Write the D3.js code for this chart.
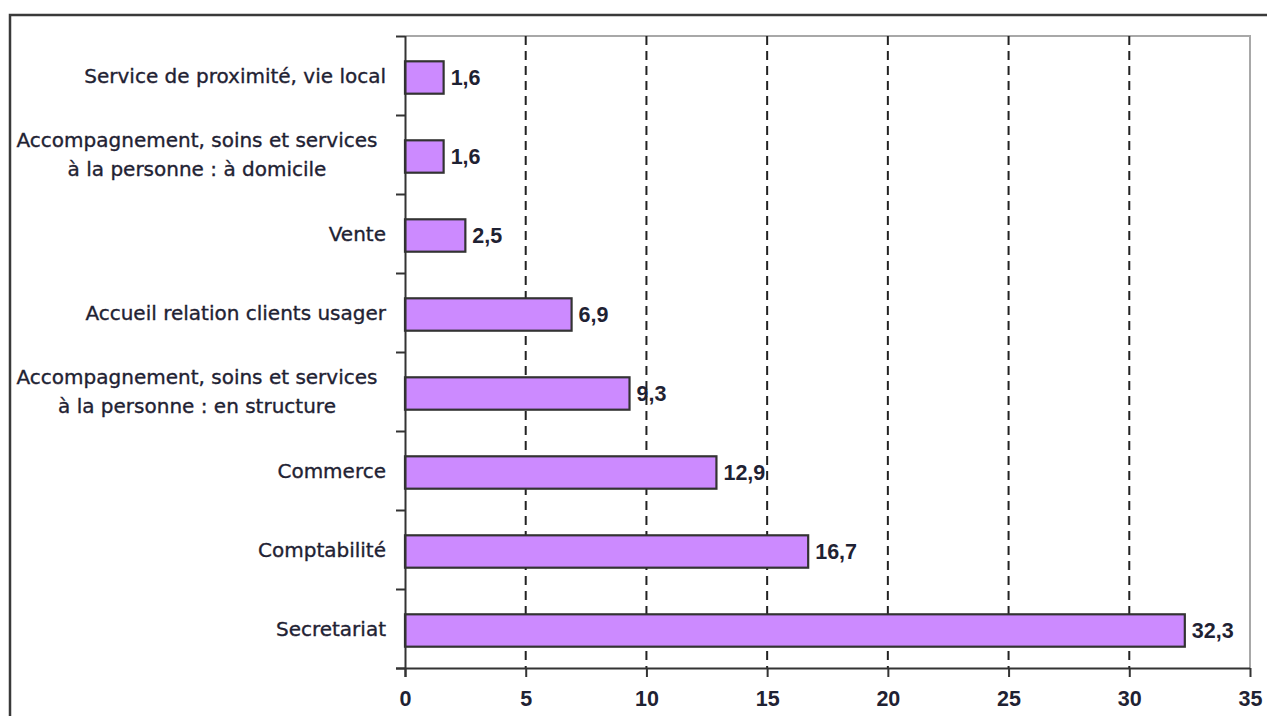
<!DOCTYPE html>
<html>
<head>
<meta charset="utf-8">
<script src="https://cdn.jsdelivr.net/npm/d3@7/dist/d3.min.js"></script>
<style>
  html, body { margin: 0; padding: 0; background: #fff; }
  svg { display: block; }
</style>
</head>
<body>
<svg id="chart" width="1267" height="716"></svg>
<script>
// Répartition par domaine de formation (%)
const categories = [
  "Service de proximité, vie local",
  "Accompagnement, soins et services|à la personne : à domicile",
  "Vente",
  "Accueil relation clients usager",
  "Accompagnement, soins et services|à la personne : en structure",
  "Commerce",
  "Comptabilité",
  "Secretariat"
];
const values = [1.6, 1.6, 2.5, 6.9, 9.3, 12.9, 16.7, 32.3];
const valueLabels = ["1,6", "1,6", "2,5", "6,9", "9,3", "12,9", "16,7", "32,3"];
const xTicks = [0, 5, 10, 15, 20, 25, 30, 35];

const svg = d3.select("#chart");
const W = 1267, H = 716;
const plot = { left: 405, right: 1250, top: 36, bottom: 668 };

// Outer frame (top and left edges)
svg.append("path")
  .attr("d", `M10,${H} L10,15 L${W},15`)
  .attr("fill", "none")
  .attr("stroke", "#3a3a3a")
  .attr("stroke-width", 2.5);

const x = d3.scaleLinear().domain([0, 35]).range([plot.left, plot.right]);
const y = d3.scaleBand().domain(categories).range([plot.top, plot.bottom]).paddingInner(0.59).paddingOuter(0.295);
const yEdges = d3.scaleLinear().domain([0, categories.length]).range([plot.top, plot.bottom]);

// Plot-area frame: top and right in grey
svg.append("path")
  .attr("d", `M${plot.left},${plot.top} L${plot.right},${plot.top} L${plot.right},${plot.bottom}`)
  .attr("fill", "none")
  .attr("stroke", "#a8a8a8")
  .attr("stroke-width", 2);

// Dashed vertical gridlines
svg.append("g")
  .selectAll("line")
  .data(xTicks.filter(t => t > 0 && t < 35))
  .join("line")
  .attr("x1", d => x(d)).attr("x2", d => x(d))
  .attr("y1", plot.top).attr("y2", plot.bottom)
  .attr("stroke", "#222")
  .attr("stroke-width", 2)
  .attr("stroke-dasharray", "9,6");

// Bars (sit slightly below the band centre)
const barShift = 2;
svg.append("g")
  .attr("transform", `translate(0,${barShift})`)
  .selectAll("rect")
  .data(values)
  .join("rect")
  .attr("x", x(0))
  .attr("y", (d, i) => y(categories[i]))
  .attr("width", d => x(d) - x(0))
  .attr("height", y.bandwidth())
  .attr("fill", "#cc8aff")
  .attr("stroke", "#333")
  .attr("stroke-width", 2.2);

// Value labels
svg.append("g")
  .selectAll("text")
  .data(values)
  .join("text")
  .attr("x", d => x(d) + 7)
  .attr("y", (d, i) => y(categories[i]) + y.bandwidth() / 2 + barShift)
  .attr("dy", "0.36em")
  .attr("font-family", "'Liberation Sans', Arial, sans-serif")
  .attr("font-weight", "bold")
  .attr("font-size", 21.5)
  .attr("fill", "#1f2233")
  .text((d, i) => valueLabels[i]);

// X axis
const xAxis = svg.append("g")
  .attr("transform", `translate(0,${plot.bottom})`)
  .call(d3.axisBottom(x).tickValues(xTicks).tickSize(9).tickSizeOuter(0).tickPadding(14).tickFormat(d3.format("d")));
xAxis.select(".domain").attr("d", `M${plot.left - 9},0.5H${plot.right}`).attr("stroke", "#333").attr("stroke-width", 2);
xAxis.selectAll(".tick line").attr("stroke", "#333").attr("stroke-width", 2);
xAxis.selectAll(".tick text")
  .attr("font-family", "'Liberation Sans', Arial, sans-serif")
  .attr("font-weight", "bold")
  .attr("font-size", 21.5)
  .attr("fill", "#1f2233");

// Y axis with ticks at category boundaries
const yAxis = svg.append("g")
  .attr("transform", `translate(${plot.left},0)`)
  .call(d3.axisLeft(yEdges).tickValues(d3.range(categories.length + 1)).tickSize(9).tickSizeOuter(0).tickFormat(""));
yAxis.select(".domain").attr("d", `M0.5,${plot.top}V${plot.bottom + 9}`).attr("stroke", "#333").attr("stroke-width", 2);
yAxis.selectAll(".tick line").attr("stroke", "#333").attr("stroke-width", 2);

// Category labels; two-line labels are centred on themselves, right-aligned as a block
const labels = svg.append("g")
  .selectAll("text")
  .data(categories)
  .join("text")
  .attr("font-family", "'DejaVu Sans', sans-serif")
  .attr("font-size", 20)
  .attr("fill", "#1f2233")
  .attr("stroke", "#1f2233")
  .attr("stroke-width", 0.35)
  .attr("transform", d => `translate(0,${y(d) + y.bandwidth() / 2})`);

labels.each(function(d) {
  const lines = d.split("|");
  const t = d3.select(this);
  const lh = 29;
  const multi = lines.length > 1;
  t.attr("text-anchor", multi ? "middle" : "end");
  lines.forEach((ln, k) => {
    t.append("tspan")
      .attr("x", multi ? 197 : 386)
      .attr("y", (k - (lines.length - 1) / 2) * lh)
      .attr("dy", "0.36em")
      .text(ln);
  });
});
</script>
</body>
</html>
